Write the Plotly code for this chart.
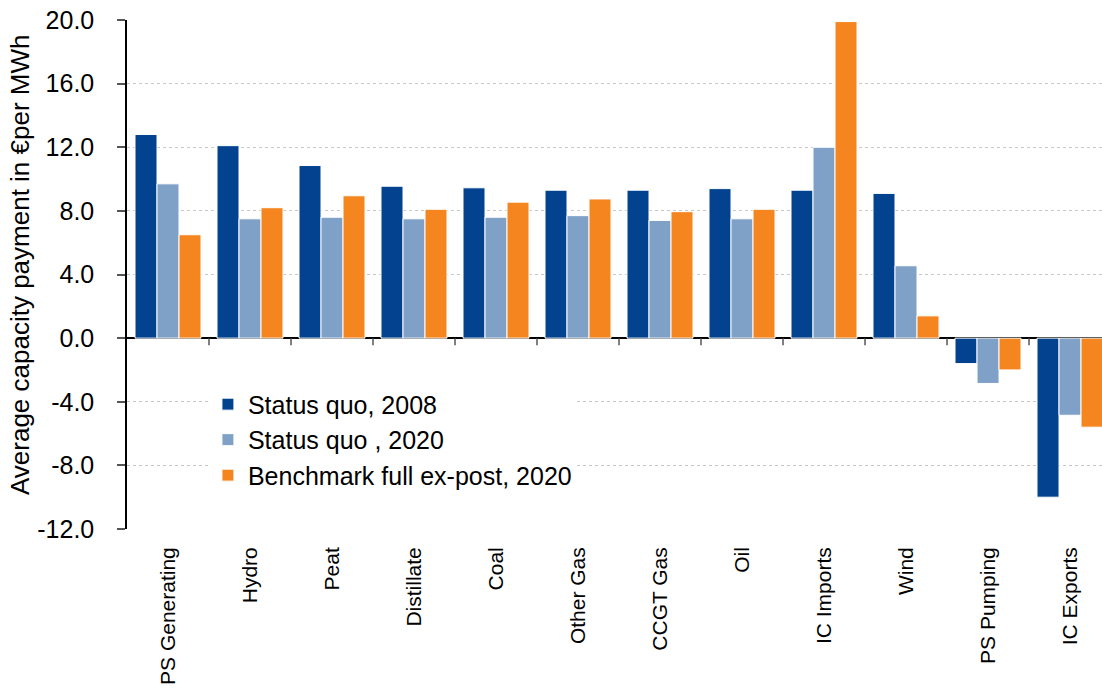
import plotly.graph_objects as go

categories = ["PS Generating", "Hydro", "Peat", "Distillate", "Coal", "Other Gas",
              "CCGT Gas", "Oil", "IC Imports", "Wind", "PS Pumping", "IC Exports"]
status_quo_2008 = [12.8, 12.1, 10.85, 9.55, 9.45, 9.3, 9.3, 9.4, 9.3, 9.1, -1.6, -10.0]
status_quo_2020 = [9.7, 7.5, 7.6, 7.5, 7.6, 7.7, 7.4, 7.5, 12.0, 4.55, -2.85, -4.85]
benchmark_2020 = [6.5, 8.2, 8.95, 8.1, 8.55, 8.75, 7.95, 8.1, 19.9, 1.4, -2.0, -5.6]
y_ticks = [-12, -8, -4, 0, 4, 8, 12, 16, 20]
y_tick_labels = [f"{v:.1f}" for v in y_ticks]
y_title = "Average capacity payment in €per MWh"

series = [
    ("Status quo, 2008", status_quo_2008, "#03428f"),
    ("Status quo , 2020", status_quo_2020, "#7fa0c7"),
    ("Benchmark full ex-post, 2020", benchmark_2020, "#f5861f"),
]

font_family = "Liberation Sans, Arial, sans-serif"

fig = go.Figure()
for name, vals, color in series:
    fig.add_trace(go.Bar(
        x=list(range(len(categories))), y=vals, name=name,
        marker=dict(color=color, line=dict(color="white", width=1)),
    ))

# small downward tick marks on the zero line between categories
shapes = []
for i in range(len(categories) - 1):
    shapes.append(dict(
        type="line", xref="x", yref="y", x0=i + 0.5, x1=i + 0.5,
        ysizemode="pixel", yanchor=0, y0=0, y1=-7,
        line=dict(color="#555555", width=1.5),
    ))

# vertical axis title, placed to the left of the tick labels
annotations = [dict(
    text=y_title, xref="paper", yref="paper", x=-0.109, y=0.52,
    xanchor="center", yanchor="middle", textangle=-90, showarrow=False,
    font=dict(family=font_family, size=26, color="black"),
)]

fig.update_layout(
    width=1102, height=690,
    margin=dict(l=127, r=0, t=20, b=161, autoexpand=False),
    paper_bgcolor="white", plot_bgcolor="white",
    font=dict(family=font_family, size=22, color="black"),
    barmode="group", bargap=0.195, bargroupgap=0,
    showlegend=True,
    legend=dict(
        x=0.083, y=0.29, xanchor="left", yanchor="top",
        bgcolor="white", font=dict(family=font_family, size=25),
        itemwidth=30, tracegroupgap=0,
    ),
    shapes=shapes,
    annotations=annotations,
    xaxis=dict(
        tickmode="array", tickvals=list(range(len(categories))), ticktext=categories,
        range=[-0.5, 11.39], tickangle=-90, ticks="", showline=False,
        showgrid=False, zeroline=False, ticklabelstandoff=13, automargin=False,
        tickfont=dict(family=font_family, size=21),
    ),
    yaxis=dict(
        range=[-12, 20], tickmode="array", tickvals=y_ticks, ticktext=y_tick_labels,
        showline=True, linecolor="black", linewidth=1.5,
        ticks="outside", ticklen=8, tickcolor="#555555", tickwidth=1.5,
        ticklabelstandoff=18, automargin=False,
        showgrid=True, gridcolor="#c8c8c8", griddash="3px,3px", gridwidth=1,
        zeroline=True, zerolinecolor="black", zerolinewidth=1.5,
        tickfont=dict(family=font_family, size=25),
    ),
)

fig.write_html("out.html")
